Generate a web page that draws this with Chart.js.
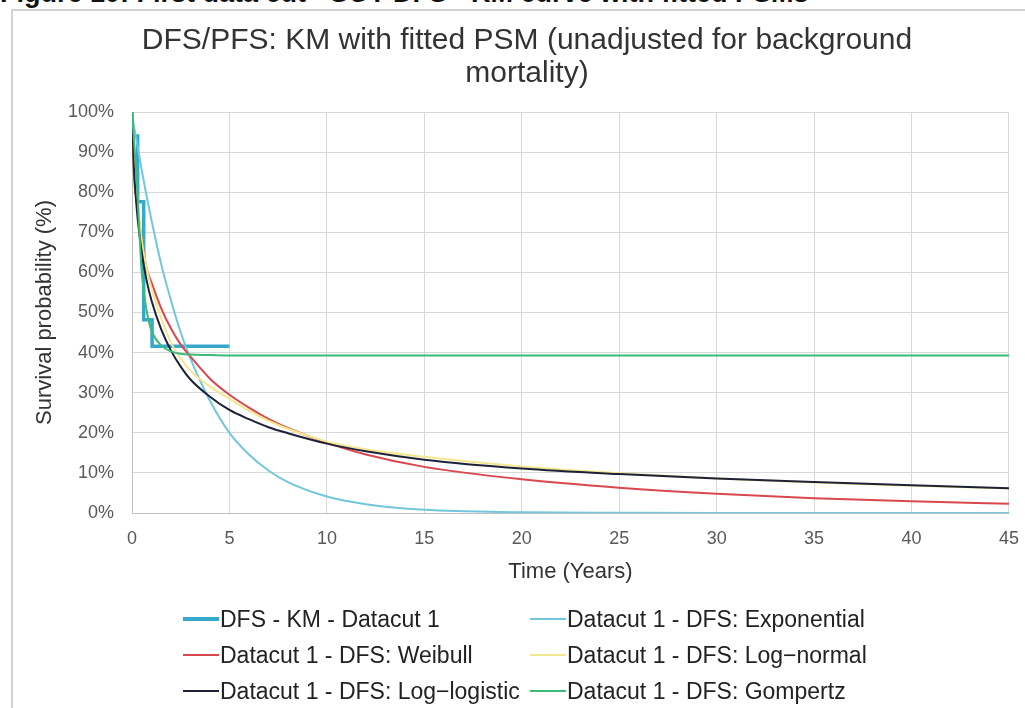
<!DOCTYPE html>
<html>
<head>
<meta charset="utf-8">
<script src="https://cdn.jsdelivr.net/npm/chart.js@4.4.1/dist/chart.umd.min.js"></script>
<style>
  body {
    margin: 0;
    width: 1025px;
    height: 708px;
    overflow: hidden;
    background: #fff;
    position: relative;
    font-family: "Liberation Sans", Arial, sans-serif;
  }
  #caption {
    position: absolute;
    left: 0;
    top: -20px;
    font-weight: bold;
    font-size: 27px;
    line-height: 27px;
    white-space: nowrap;
    color: #111;
  }
  #frame {
    position: absolute;
    left: 11px;
    top: 9px;
    width: 1030px;
    height: 720px;
    border-top: 2px solid #d2d2d2;
    border-left: 2px solid #d2d2d2;
  }
  #wrap {
    position: absolute;
    left: 13px;
    top: 11px;
    width: 1021px;
    height: 697px;
  }
  #legend {
    position: absolute;
    left: 183px;
    top: 601px;
    display: grid;
    grid-template-columns: 347px auto;
    grid-auto-rows: 36px;
    font-size: 23px;
    color: #222;
  }
  .item { display: flex; align-items: center; white-space: nowrap; }
  .swatch { display: inline-block; width: 36px; margin-right: 1px; }
</style>
</head>
<body>
<div id="caption">Figure 10: First data cut - SOT DFS - KM curve with fitted PSMs</div>
<div id="frame"></div>
<div id="wrap"><canvas id="chart"></canvas></div>
<div id="legend"></div>
<script>
// time grid (years) used by the fitted curves
const timeYears = [0, 0.1, 0.25, 0.5, 0.75, 1, 1.5, 2, 2.5, 3, 4, 5, 6, 7, 8, 10, 12, 15, 20, 25, 30, 35, 40, 45];

// Kaplan-Meier steps
const kmTimes = [0, 0, 0.29, 0.6, 1.03, 5];
const kmSurvival = [100, 94, 77.6, 48.2, 41.6, 41.6];

// fitted parametric curves, survival %
const exponential = [100, 96.5, 92.5, 85.5, 79, 73, 62, 53, 45, 38.5, 28, 20, 14.6, 10.6, 7.7, 4.1, 2.2, 0.8, 0.2, 0.05, 0, 0, 0, 0];
const weibull     = [100, 85, 77, 68.5, 61, 57.5, 51, 46, 42, 39, 33.5, 29.5, 26.3, 23.5, 21.2, 17.5, 14.6, 11.5, 8.4, 6.3, 4.8, 3.7, 2.9, 2.3];
const logNormal   = [100, 90, 80, 68, 61, 56, 48.5, 42.5, 38.5, 35.5, 31.5, 28.5, 25.5, 23, 21, 17.8, 15.9, 14, 11.6, 9.9, 8.6, 7.6, 6.8, 6.1];
const logLogistic = [100, 86, 75.5, 65, 58, 53, 45.8, 40.5, 36.5, 33.3, 29, 25.7, 23.4, 21.4, 19.9, 17.3, 15.4, 13.3, 11.1, 9.7, 8.6, 7.7, 6.9, 6.2];
const gompertz    = [100, 93, 82, 60, 50.5, 45.5, 41.8, 40.3, 39.7, 39.5, 39.4, 39.3, 39.3, 39.3, 39.3, 39.3, 39.3, 39.3, 39.3, 39.3, 39.3, 39.3, 39.3, 39.3];

const seriesLabels = [
  "DFS - KM - Datacut 1",
  "Datacut 1 - DFS: Exponential",
  "Datacut 1 - DFS: Weibull",
  "Datacut 1 - DFS: Log\u2212normal",
  "Datacut 1 - DFS: Log\u2212logistic",
  "Datacut 1 - DFS: Gompertz"
];
const seriesColors = ["#35a8cb", "#72c7dc", "#d9484f", "#f3e88e", "#1e2238", "#3dba78"];

const xTicks = [0, 5, 10, 15, 20, 25, 30, 35, 40, 45];
const yTicks = [0, 10, 20, 30, 40, 50, 60, 70, 80, 90, 100];

const toPoints = (xs, ys) => xs.map((x, i) => ({ x: x, y: ys[i] }));

const curve = (idx, values, order) => ({
  label: seriesLabels[idx],
  data: toPoints(timeYears, values),
  borderColor: seriesColors[idx],
  backgroundColor: seriesColors[idx],
  borderWidth: 2,
  pointRadius: 0,
  fill: false,
  cubicInterpolationMode: "monotone",
  order: order
});

const datasets = [
  {
    label: seriesLabels[0],
    data: toPoints(kmTimes, kmSurvival),
    borderColor: seriesColors[0],
    backgroundColor: seriesColors[0],
    borderWidth: 3.5,
    pointRadius: 0,
    fill: false,
    stepped: true,
    order: 6
  },
  curve(1, exponential, 5),
  curve(2, weibull, 4),
  curve(3, logNormal, 3),
  curve(4, logLogistic, 2),
  curve(5, gompertz, 1)
];

const chart = new Chart(document.getElementById("chart"), {
  type: "line",
  data: { datasets: datasets },
  options: {
    responsive: true,
    maintainAspectRatio: false,
    animation: false,
    // left/right padding keep the title centred like the original box
    layout: { padding: { left: 14, right: 7, top: 0, bottom: 0 } },
    plugins: {
      legend: { display: false },
      tooltip: { enabled: false },
      title: {
        display: true,
        text: ["DFS/PFS: KM with fitted PSM (unadjusted for background", "mortality)"],
        color: "#333",
        font: { family: "Liberation Sans", size: 30, weight: "normal", lineHeight: 1.1 },
        padding: { top: 13, bottom: 22 }
      }
    },
    scales: {
      x: {
        type: "linear",
        min: 0,
        max: 45,
        afterBuildTicks: (s) => { s.ticks = xTicks.map((v) => ({ value: v })); },
        afterFit: (s) => { s.height = 195; },
        ticks: {
          color: "#595959",
          font: { family: "Liberation Sans", size: 18 },
          padding: 15,
          maxRotation: 0
        },
        grid: { color: "#d9d9d9", drawTicks: false },
        border: { color: "#bfbfbf" },
        title: {
          display: true,
          text: "Time (Years)",
          color: "#333",
          font: { family: "Liberation Sans", size: 22 },
          padding: { top: 0, bottom: 123 }
        }
      },
      y: {
        min: 0,
        max: 100,
        afterBuildTicks: (s) => { s.ticks = yTicks.map((v) => ({ value: v })); },
        afterFit: (s) => { s.width = 105; },
        ticks: {
          color: "#595959",
          font: { family: "Liberation Sans", size: 18 },
          padding: 18,
          callback: (v) => v + "%"
        },
        grid: { color: "#d9d9d9", drawTicks: false },
        border: { color: "#bfbfbf" },
        title: {
          display: true,
          text: "Survival probability (%)",
          color: "#333",
          font: { family: "Liberation Sans", size: 22 },
          padding: { top: 5, bottom: 0 }
        }
      }
    }
  }
});

// legend in two columns, built from the chart's datasets
const legendEl = document.getElementById("legend");
chart.data.datasets.forEach((ds) => {
  const item = document.createElement("div");
  item.className = "item";
  const sw = document.createElement("span");
  sw.className = "swatch";
  sw.style.height = (ds.borderWidth > 2 ? 4 : 2) + "px";
  sw.style.background = ds.borderColor;
  const txt = document.createElement("span");
  txt.textContent = ds.label;
  item.appendChild(sw);
  item.appendChild(txt);
  legendEl.appendChild(item);
});
</script>
</body>
</html>
